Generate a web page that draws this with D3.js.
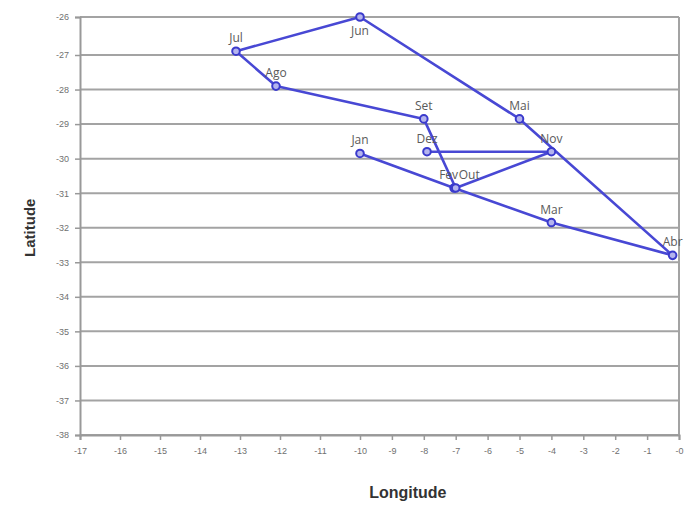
<!DOCTYPE html>
<html>
<head>
<meta charset="utf-8">
<script src="https://cdn.jsdelivr.net/npm/d3@7"></script>
<style>
  html, body { margin: 0; padding: 0; background: #fff; }
  svg { display: block; }
</style>
</head>
<body>
<svg id="chart" width="684" height="509"></svg>
<script>
// Monthly position (longitude, latitude), drawn as one path in month order
const months = ["Jan", "Fev", "Mar", "Abr", "Mai", "Jun", "Jul", "Ago", "Set", "Out", "Nov", "Dez"];
const longitude = [-10, -7.05, -4, -0.2, -5, -10, -13.1, -12.1, -8, -7, -4, -7.9];
const latitude = [-29.85, -30.85, -31.85, -32.8, -28.85, -26, -26.9, -27.9, -28.85, -30.85, -29.8, -29.8];

const xTicks = d3.range(-17, 1);
const yTicks = d3.range(-38, -25);

const points = months.map((m, i) => ({ month: m, lon: longitude[i], lat: latitude[i] }));

const svg = d3.select("#chart");

// Plot frame scales
const x = d3.scaleLinear().domain([-17, -10, 0]).range([80, 360, 679]);
const y = d3.scaleLinear().domain([-26, -27, -38]).range([17, 55, 435]);

const gridColor = "#a3a3a3";
const lineColor = "#4848d4";

// Horizontal gridlines
svg.append("g")
  .selectAll("line")
  .data(yTicks)
  .join("line")
  .attr("x1", x(-17)).attr("x2", x(0))
  .attr("y1", d => y(d)).attr("y2", d => y(d))
  .attr("stroke", gridColor)
  .attr("stroke-width", 2);

// Right frame edge
svg.append("line")
  .attr("x1", x(0)).attr("x2", x(0))
  .attr("y1", y(-26)).attr("y2", y(-38))
  .attr("stroke", gridColor)
  .attr("stroke-width", 2);

// Axes
const xAxis = svg.append("g")
  .attr("transform", `translate(0,${y(-38)})`)
  .call(d3.axisBottom(x).tickValues(xTicks).tickSize(5).tickPadding(8)
    .tickFormat(d => d === 0 ? "-0" : String(d)));

const yAxis = svg.append("g")
  .attr("transform", `translate(${x(-17)},0)`)
  .call(d3.axisLeft(y).tickValues(yTicks).tickSize(5).tickPadding(6)
    .tickFormat(d => String(d)));

[xAxis, yAxis].forEach(g => {
  g.select(".domain").attr("stroke", "#999").attr("stroke-width", 2);
  g.selectAll(".tick line").attr("stroke", "#999").attr("stroke-width", 1.5);
  g.selectAll(".tick text")
    .attr("fill", "#707070")
    .attr("font-family", "Liberation Sans, Arial, sans-serif")
    .attr("font-size", 9);
});

// Track line
svg.append("path")
  .datum(points)
  .attr("fill", "none")
  .attr("stroke", lineColor)
  .attr("stroke-width", 2.6)
  .attr("stroke-linejoin", "round")
  .attr("d", d3.line().x(d => x(d.lon)).y(d => y(d.lat)));

// Point markers
svg.append("g")
  .selectAll("circle")
  .data(points)
  .join("circle")
  .attr("cx", d => x(d.lon))
  .attr("cy", d => y(d.lat))
  .attr("r", 3.8)
  .attr("fill", "#b4b4ee")
  .attr("stroke", "#3a3acc")
  .attr("stroke-width", 2);

// Month labels: above each point, below for the topmost one,
// and split left/right where two months share a position
function labelAnchor(d) {
  if (d.month === "Fev" || d.month === "Abr") return "end";
  if (d.month === "Out") return "start";
  return "middle";
}
function labelDx(d) {
  if (d.month === "Fev") return 4;
  if (d.month === "Out") return 3;
  if (d.month === "Abr") return 10;
  return 0;
}
svg.append("g")
  .selectAll("text")
  .data(points)
  .join("text")
  .attr("x", d => x(d.lon) + labelDx(d))
  .attr("y", d => y(d.lat) + (d.lat >= -26 ? 18 : -9))
  .attr("text-anchor", labelAnchor)
  .attr("fill", "#5a5a5a")
  .attr("font-family", "Open Sans, Liberation Sans, sans-serif")
  .attr("font-size", 12)
  .text(d => d.month);

// Axis titles
svg.append("text")
  .attr("x", x(-8.5))
  .attr("y", 498)
  .attr("text-anchor", "middle")
  .attr("fill", "#333")
  .attr("font-family", "Liberation Sans, Arial, sans-serif")
  .attr("font-weight", "bold")
  .attr("font-size", 16)
  .text("Longitude");

svg.append("text")
  .attr("transform", `translate(35,${y(-32)}) rotate(-90)`)
  .attr("text-anchor", "middle")
  .attr("fill", "#333")
  .attr("font-family", "Liberation Sans, Arial, sans-serif")
  .attr("font-weight", "bold")
  .attr("font-size", 15)
  .text("Latitude");
</script>
</body>
</html>
